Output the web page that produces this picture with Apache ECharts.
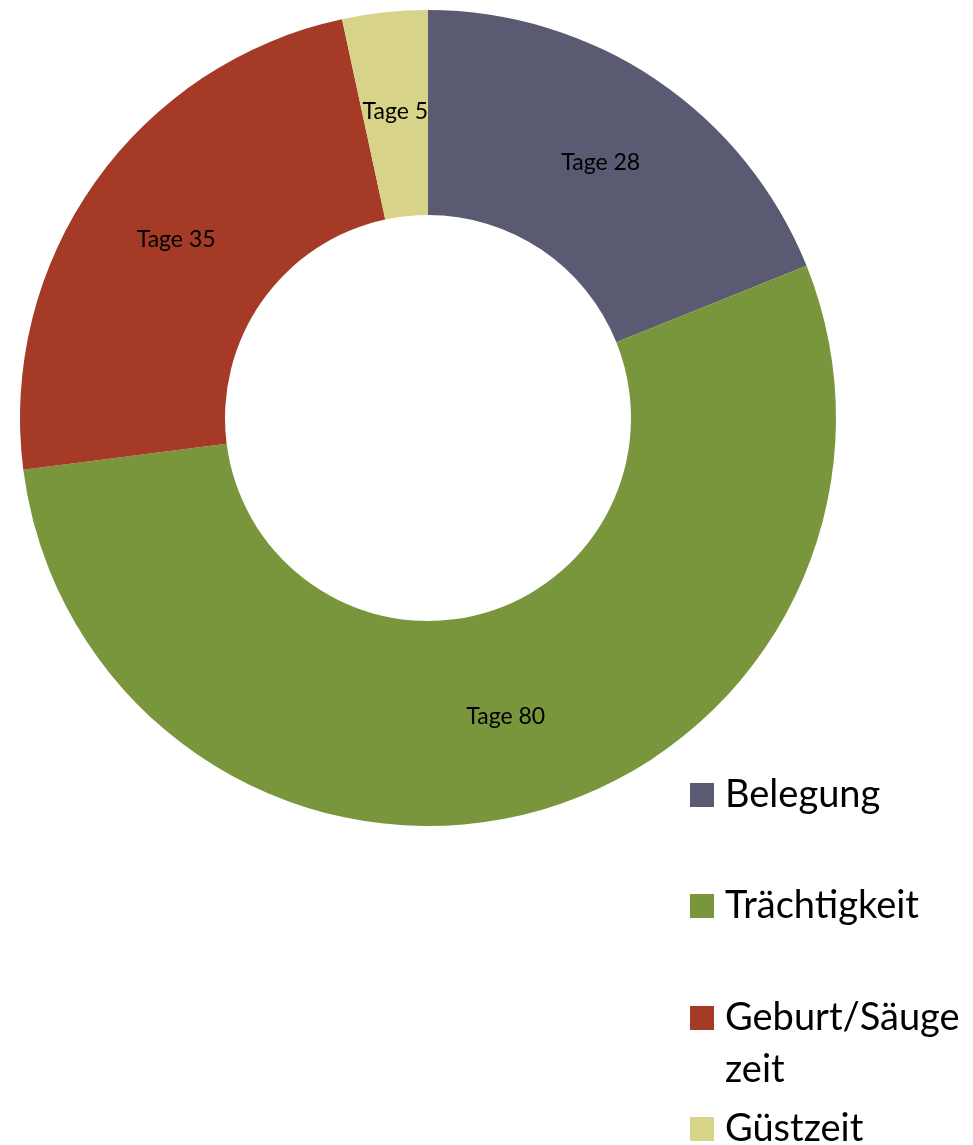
<!DOCTYPE html>
<html>
<head>
<meta charset="utf-8">
<script src="https://cdn.jsdelivr.net/npm/echarts@6/dist/echarts.min.js"></script>
<style>
  html, body { margin: 0; padding: 0; background: #fff; }
  #chart { width: 973px; height: 1145px; }
</style>
</head>
<body>
<div id="chart"></div>
<script>
const categories = ['Belegung', 'Trächtigkeit', 'Geburt/Säugezeit', 'Güstzeit'];
const days = [28, 80, 35, 5];
const colors = ['#5a5a72', '#7a963c', '#a53a27', '#d7d388'];
const legendTops = [770, 881, 993, 1104];

const chart = echarts.init(document.getElementById('chart'));

const fontFamily = 'Lato, "Open Sans", sans-serif';

// one legend per item so the uneven spacing of the original can be kept
const legends = categories.map((name, i) => ({
  data: [name],
  orient: 'vertical',
  left: 685,
  top: legendTops[i],
  itemWidth: 24,
  itemHeight: 24,
  icon: 'rect',
  selectedMode: false,
  formatter: n => n === 'Geburt/Säugezeit' ? 'Geburt/Säuge' : n,
  textStyle: { fontSize: 38, lineHeight: 40, color: '#000', fontFamily, padding: [0, 0, 0, 6] }
}));

const option = {
  animation: false,
  backgroundColor: '#fff',
  color: colors,
  legend: legends,
  graphic: [{
    type: 'text',
    left: 725,
    top: 1050,
    style: { text: 'zeit', fontSize: 38, lineHeight: 40, fill: '#000', fontFamily }
  }],
  series: [{
    type: 'pie',
    center: [428, 418],
    radius: [203, 408],
    startAngle: 90,
    clockwise: true,
    label: {
      show: true,
      position: 'inside',
      formatter: p => 'Tage ' + p.value,
      color: '#000',
      fontSize: 23,
      fontFamily
    },
    labelLine: { show: false },
    emphasis: { disabled: true },
    itemStyle: { borderWidth: 0 },
    data: categories.map((name, i) => ({ name, value: days[i] }))
  }]
};

chart.setOption(option);
</script>
</body>
</html>
